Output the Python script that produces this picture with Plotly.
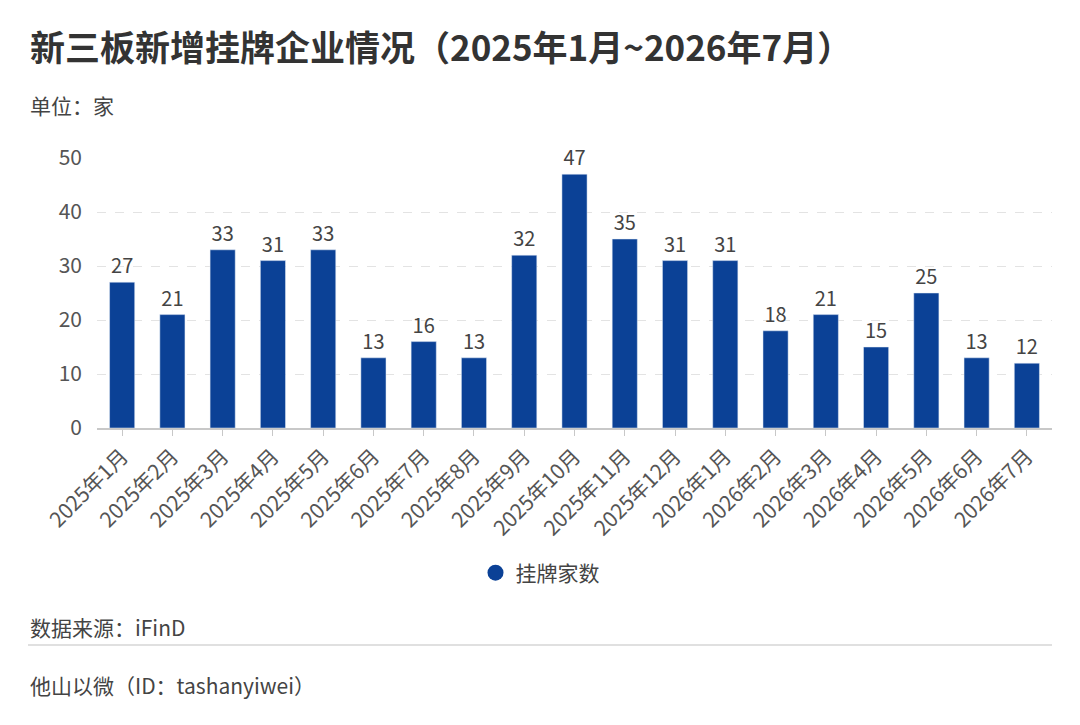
import plotly.graph_objects as go

months = ["2025年1月", "2025年2月", "2025年3月", "2025年4月", "2025年5月", "2025年6月",
          "2025年7月", "2025年8月", "2025年9月", "2025年10月", "2025年11月", "2025年12月",
          "2026年1月", "2026年2月", "2026年3月", "2026年4月", "2026年5月", "2026年6月", "2026年7月"]
listings = [27, 21, 33, 31, 33, 13, 16, 13, 32, 47, 35, 31, 31, 18, 21, 15, 25, 13, 12]
y_ticks = [0, 10, 20, 30, 40, 50]

FONT = "Noto Sans CJK SC"
BAR = "#0b4196"

# page offset (browser body margin)
OFF = 8
L, R, T, B = 97, 1052, 158, 428
PW, PH = R - L, B - T

def px(x):
    return (x - L) / PW

def py(y):
    return (B - y) / PH

fig = go.Figure()
fig.add_trace(go.Bar(
    x=months, y=listings, name="挂牌家数", showlegend=False,
    marker=dict(color=BAR), width=0.5,
    text=listings, textposition="outside", cliponaxis=False,
    textfont=dict(size=20, color="#444", family=FONT),
))
fig.add_trace(go.Scatter(x=[None], y=[None], mode="markers", name="挂牌家数",
                         marker=dict(symbol="circle", size=20, color=BAR), showlegend=True))

fig.update_layout(
    width=1080, height=725,
    margin=dict(l=L - OFF, r=1080 - R + OFF, t=T - OFF, b=725 - B + OFF),
    paper_bgcolor="white", plot_bgcolor="white",
    font=dict(family=FONT, color="#555"),
    showlegend=True,
    legend=dict(orientation="h", x=px(540), xanchor="center", y=py(573), yanchor="middle",
                font=dict(size=21, color="#444", family=FONT), itemsizing="trace"),
    xaxis=dict(
        tickangle=-45, tickfont=dict(size=21, color="#555", family=FONT),
        showline=True, linecolor="#c8c8c8", linewidth=1.5,
        ticks="outside", ticklen=6, tickcolor="#c8c8c8",
        showgrid=False,
    ),
    yaxis=dict(
        range=[0, 50], tickvals=y_ticks, tickfont=dict(size=21, color="#555", family=FONT),
        showgrid=True, gridcolor="#e3e3e3", griddash="dash", gridwidth=1,
        zeroline=False, ticks="", ticklabelstandoff=14,
    ),
    bargap=0.5,
)

fig.add_annotation(text="<b>新三板新增挂牌企业情况（2025年1月~2026年7月）</b>",
                   xref="paper", yref="paper", x=px(28), y=py(45),
                   xanchor="left", yanchor="middle", showarrow=False,
                   font=dict(size=35, color="#333", family=FONT))
fig.add_annotation(text="单位：家", xref="paper", yref="paper",
                   x=px(28), y=py(105), xanchor="left", yanchor="middle",
                   showarrow=False, font=dict(size=21, color="#444", family=FONT))
fig.add_annotation(text="数据来源：iFinD", xref="paper", yref="paper",
                   x=px(28), y=py(627), xanchor="left", yanchor="middle",
                   showarrow=False, font=dict(size=21, color="#444", family=FONT))
fig.add_annotation(text="他山以微（ID：tashanyiwei）", xref="paper", yref="paper",
                   x=px(28), y=py(685), xanchor="left", yanchor="middle",
                   showarrow=False, font=dict(size=21, color="#444", family=FONT))
fig.add_shape(type="line", xref="paper", yref="paper",
              x0=px(28), x1=px(1052), y0=py(645), y1=py(645),
              line=dict(color="#e0e0e0", width=2))

fig.write_html("out.html")
